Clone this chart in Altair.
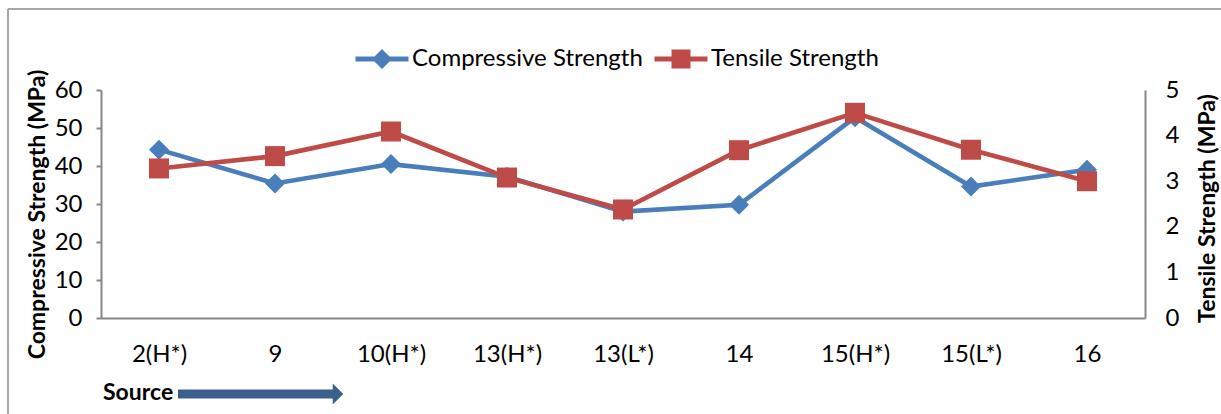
import altair as alt
import pandas as pd

sources = ["2(H*)", "9", "10(H*)", "13(H*)", "13(L*)", "14", "15(H*)", "15(L*)", "16"]
compressive = [44.3, 35.4, 40.5, 37.2, 28.0, 29.8, 52.8, 34.6, 39.0]
tensile = [3.28, 3.55, 4.09, 3.08, 2.38, 3.68, 4.50, 3.69, 3.00]
left_ticks = [0, 10, 20, 30, 40, 50, 60]
right_ticks = [0, 1, 2, 3, 4, 5]

BLUE = "#4A7EBB"
RED = "#BE4B48"
ARROW = "#3C5F8E"
GRAY = "#868686"
FONT = "Lato"
LBL = 24

comp_df = pd.DataFrame({"Source": sources, "Value": compressive, "Series": "Compressive Strength"})
tens_df = pd.DataFrame({"Source": sources, "Value": tensile, "Series": "Tensile Strength"})

x_enc = alt.X("Source:N", sort=sources, title=None,
              scale=alt.Scale(type="point", padding=0.5),
              axis=alt.Axis(ticks=False, labelPadding=24, labelAngle=0,
                            domainColor=GRAY, domainWidth=2))

diamond_leg = "M-2.65,-0.25L2.65,-0.25L2.65,0.25L-2.65,0.25Z M0,-1L1,0L0,1L-1,0Z"
square_leg = "M-2.65,-0.25L2.65,-0.25L2.65,0.25L-2.65,0.25Z M-0.95,-0.95L0.95,-0.95L0.95,0.95L-0.95,0.95Z"

def legend(path, fill, lx):
    return alt.Legend(orient="none", legendX=lx, legendY=-43, title=None,
                      symbolType=path, symbolSize=400, symbolFillColor=fill,
                      symbolStrokeColor=fill, symbolStrokeWidth=0,
                      labelFont=FONT, labelFontSize=LBL, labelColor="#000000",
                      labelOffset=18, labelLimit=500)

comp = alt.Chart(comp_df).mark_line(
    strokeWidth=4.6,
    point=alt.OverlayMarkDef(shape="diamond", size=400, filled=True, opacity=1),
).encode(
    x=x_enc,
    y=alt.Y("Value:Q", scale=alt.Scale(domain=[0, 60]),
            axis=alt.Axis(values=left_ticks, title="Compressive Strength (MPa)",
                          orient="left", tickSize=5, tickColor=GRAY, tickWidth=2,
                          domainColor=GRAY, domainWidth=2, labelPadding=14,
                          titleAngle=270, titleX=-64, titleY=124,
                          titleAlign="center", titleBaseline="middle")),
    color=alt.Color("Series:N", scale=alt.Scale(domain=["Compressive Strength"], range=[BLUE]),
                    legend=legend(diamond_leg, BLUE, 269)),
)

tens = alt.Chart(tens_df).mark_line(
    strokeWidth=4.6,
    point=alt.OverlayMarkDef(shape="square", size=400, filled=True, opacity=1),
).encode(
    x=x_enc,
    y=alt.Y("Value:Q", scale=alt.Scale(domain=[0, 5]),
            axis=alt.Axis(values=right_ticks, title="Tensile Strength (MPa)",
                          orient="right", ticks=False,
                          domainColor=GRAY, domainWidth=2, labelPadding=20,
                          titleAngle=270, titleX=62, titleY=118,
                          titleAlign="center", titleBaseline="middle")),
    color=alt.Color("Series:N", scale=alt.Scale(domain=["Tensile Strength"], range=[RED]),
                    legend=legend(square_leg, RED, 568)),
)

dummy = pd.DataFrame({"d": [0]})
frame_top = alt.Chart(dummy).mark_rule(color="#A6A6A6", strokeWidth=2).encode(
    x=alt.value(-93), x2=alt.value(1130), y=alt.value(-81))
frame_left = alt.Chart(dummy).mark_rule(color="#A6A6A6", strokeWidth=2).encode(
    x=alt.value(-93), y=alt.value(-81), y2=alt.value(330))
source_txt = alt.Chart(dummy).mark_text(
    text="Source", font=FONT, fontWeight="bold", fontSize=23, align="left",
    baseline="middle", color="#000000").encode(x=alt.value(2), y=alt.value(303))
shaft = alt.Chart(dummy).mark_rule(color=ARROW, strokeWidth=9).encode(
    x=alt.value(77), x2=alt.value(233), y=alt.value(304))
head = alt.Chart(dummy).mark_point(
    shape="M-0.5,-1L0.5,0L-0.5,1Z", size=441, filled=True, color=ARROW, opacity=1,
    strokeWidth=0).encode(x=alt.value(237), y=alt.value(304))

chart = alt.layer(comp, tens, frame_top, frame_left, source_txt, shaft, head).resolve_scale(
    y="independent", color="independent"
).properties(
    width=1044, height=228,
    autosize=alt.AutoSizeParams(type="none"),
    padding={"left": 101, "top": 90, "right": 76, "bottom": 96},
    background="#FFFFFF",
).configure_view(stroke=None).configure_axis(
    grid=False, labelFont=FONT, labelFontSize=LBL, labelColor="#000000",
    titleFont=FONT, titleFontSize=23, titleFontWeight="bold", titleColor="#000000",
)

chart.save("out.html", embed_options={"renderer": "svg", "actions": False})
